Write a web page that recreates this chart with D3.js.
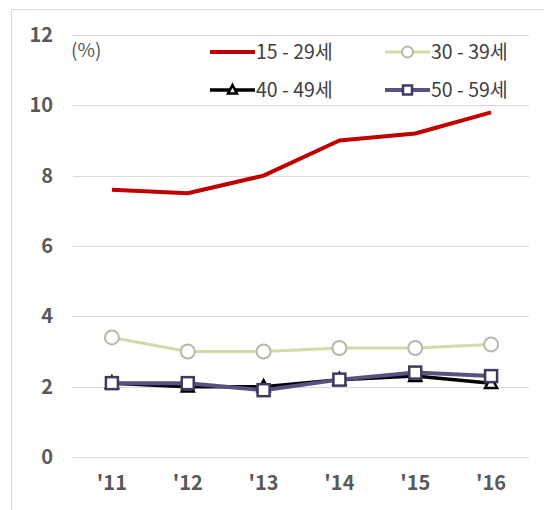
<!DOCTYPE html>
<html><head><meta charset="utf-8">
<script src="https://cdn.jsdelivr.net/npm/d3@7"></script>
<style>body{margin:0;background:#fff;} svg{display:block;}</style>
</head><body>
<script>
const categories = ["'11","'12","'13","'14","'15","'16"];
const seriesNames = ["15 - 29세","30 - 39세","40 - 49세","50 - 59세"];
const s1529 = [7.6, 7.5, 8.0, 9.0, 9.2, 9.8];
const s3039 = [3.4, 3.0, 3.0, 3.1, 3.1, 3.2];
const s4049 = [2.1, 2.0, 2.0, 2.2, 2.3, 2.1];
const s5059 = [2.1, 2.1, 1.9, 2.2, 2.4, 2.3];
const yTicks = [0, 2, 4, 6, 8, 10, 12];
const unitLabel = "(%)";

const W = 544, H = 510;
const svg = d3.select("body").append("svg").attr("width", W).attr("height", H);
const font = "'Noto Sans CJK KR','Noto Sans',sans-serif";

svg.append("rect").attr("x", 11.5).attr("y", 9.5).attr("width", 600).attr("height", 600)
  .attr("fill", "#fff").attr("stroke", "#d9d9d9");

const x = d3.scaleBand().domain(categories).range([74, 529]);
const y = d3.scaleLinear().domain([0, 12]).range([457, 35]);

// gridlines
svg.append("g").selectAll("line").data(yTicks).join("line")
  .attr("x1", 73).attr("x2", 529)
  .attr("y1", d => Math.round(y(d)) + 0.5).attr("y2", d => Math.round(y(d)) + 0.5)
  .attr("stroke", "#d9d9d9").attr("stroke-width", 1);

// y axis
const yAxis = d3.axisLeft(y).tickValues(yTicks).tickSize(0).tickPadding(0);
const gy = svg.append("g").attr("transform", "translate(53,0)").call(yAxis);
gy.select(".domain").remove();
gy.selectAll("text").attr("font-family", font).attr("font-size", 20).attr("font-weight", "bold")
  .attr("fill", "#595959");

// x axis
const xAxis = d3.axisBottom(x).tickSize(0).tickPadding(0);
const gx = svg.append("g").attr("transform", "translate(0,476)").call(xAxis);
gx.select(".domain").remove();
gx.selectAll("text").attr("font-family", font).attr("font-size", 20).attr("font-weight", "bold")
  .attr("fill", "#595959");

svg.append("text").attr("x", 71).attr("y", 57).text(unitLabel)
  .attr("font-family", font).attr("font-size", 19).attr("fill", "#595959");

const cx = c => x(c) + x.bandwidth() / 2;
const line = d3.line().x((d, i) => cx(categories[i])).y(d => y(d));

const styles = [
  {data: s1529, color: "#c00000", width: 4, marker: null},
  {data: s3039, color: "#d4d9a6", width: 3, marker: "circle", mstroke: "#b8b8a8"},
  {data: s4049, color: "#000000", width: 3.5, marker: "triangle", mstroke: "#000"},
  {data: s5059, color: "#57527f", width: 4, marker: "square", mstroke: "#3f3a60"}
];

function drawMarker(g, type, px, py, stroke, size) {
  if (type === "circle") {
    g.append("circle").attr("cx", px).attr("cy", py).attr("r", size || 7)
      .attr("fill", "#fff").attr("stroke", stroke).attr("stroke-width", 2);
  } else if (type === "square") {
    const s = size || 12;
    g.append("rect").attr("x", px - s/2).attr("y", py - s/2).attr("width", s).attr("height", s)
      .attr("fill", "#fff").attr("stroke", stroke).attr("stroke-width", 2.5);
  } else if (type === "triangle") {
    const s = size || 12;
    g.append("path").attr("d", `M${px},${py - s*0.55}L${px + s/2},${py + s*0.4}L${px - s/2},${py + s*0.4}Z`)
      .attr("fill", "#fff").attr("stroke", stroke).attr("stroke-width", 2.5);
  }
}

// draw order: 30-39, 40-49, 50-59, 15-29
[1, 2, 3, 0].forEach(k => {
  const st = styles[k];
  const g = svg.append("g");
  g.append("path").datum(st.data).attr("d", line).attr("fill", "none")
    .attr("stroke", st.color).attr("stroke-width", st.width).attr("stroke-linejoin", "round");
  if (st.marker) st.data.forEach((v, i) => drawMarker(g, st.marker, cx(categories[i]), y(v), st.mstroke));
});

// legend
const legendPos = [
  {x: 210, y: 52}, {x: 385, y: 52}, {x: 210, y: 90}, {x: 385, y: 90}
];
legendPos.forEach((p, k) => {
  const st = styles[k];
  const g = svg.append("g");
  g.append("line").attr("x1", p.x).attr("x2", p.x + 45).attr("y1", p.y).attr("y2", p.y)
    .attr("stroke", st.color).attr("stroke-width", st.width);
  if (st.marker) drawMarker(g, st.marker, p.x + 22.5, p.y, st.mstroke, st.marker === "circle" ? 5.5 : 9);
  g.append("text").attr("x", p.x + 46).attr("y", p.y).attr("dy", "0.35em")
    .text(seriesNames[k]).attr("font-family", font).attr("font-size", 19.5).attr("fill", "#404040");
});
</script>
</body></html>
